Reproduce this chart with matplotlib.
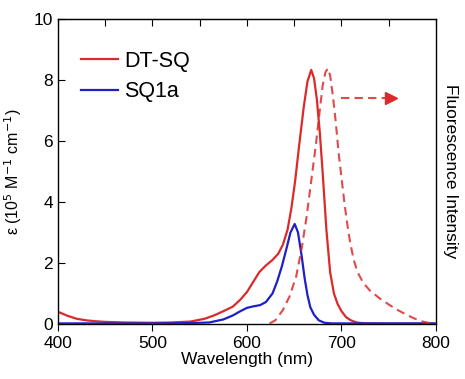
import matplotlib
matplotlib.use("Agg")
import matplotlib.pyplot as plt

plt.rcParams['font.family'] = ['Liberation Sans', 'DejaVu Sans']

# absorption of DT-SQ (1e5 M-1 cm-1)
dtsq_wl = [400, 410, 420, 430, 440, 450, 470, 500, 520, 540, 555, 565, 575, 585,
           593, 600, 607, 613, 620, 627, 633, 638, 643, 647, 651, 655, 660, 664, 668,
           671, 674, 677, 680, 684, 688, 692, 696, 700, 705, 710, 716, 725, 750, 800]
dtsq_eps = [0.40, 0.27, 0.17, 0.12, 0.09, 0.07, 0.05, 0.04, 0.05, 0.08, 0.17, 0.28,
            0.42, 0.57, 0.80, 1.05, 1.40, 1.70, 1.92, 2.10, 2.30, 2.60, 3.10, 3.80,
            4.70, 5.80, 7.10, 7.95, 8.33, 8.05, 7.35, 6.30, 5.00, 3.10, 1.70, 1.00,
            0.65, 0.42, 0.22, 0.12, 0.05, 0.02, 0.01, 0.01]

# absorption of SQ1a
sq_wl = [400, 500, 540, 560, 575, 585, 593, 600, 607, 614, 620, 627, 632, 637,
         642, 646, 650.5, 654, 658, 661, 664, 667, 671, 676, 682, 690, 800]
sq_eps = [0.02, 0.02, 0.03, 0.05, 0.15, 0.28, 0.42, 0.53, 0.58, 0.62, 0.72, 1.00,
          1.40, 1.90, 2.50, 3.00, 3.28, 3.00, 2.20, 1.50, 0.95, 0.55, 0.30, 0.12,
          0.04, 0.02, 0.02]

# fluorescence of DT-SQ (scaled to absorption peak)
fl_wl = [624, 630, 638, 645, 652, 658, 663, 668, 673, 677, 680, 683, 685.5, 688,
         691, 694, 697, 700, 703, 706, 709, 713, 717, 723, 730, 740, 751, 760,
         769, 778, 786, 795, 800]
fl_int = [0.02, 0.12, 0.46, 0.90, 1.55, 2.50, 3.50, 4.70, 5.90, 7.00, 7.80, 8.25,
          8.38, 8.15, 7.45, 6.60, 5.60, 4.80, 4.00, 3.30, 2.70, 2.10, 1.70, 1.35,
          1.10, 0.85, 0.62, 0.45, 0.30, 0.17, 0.08, 0.02, 0.01]

red = '#dc2a2a'
blue = '#1f1fc8'

fig = plt.figure(figsize=(4.65, 3.79), dpi=100)
ax = fig.add_axes([0.1247, 0.1451, 0.8129, 0.8048])

ax.plot(dtsq_wl, dtsq_eps, color=red, lw=1.6, label='DT-SQ')
ax.plot(sq_wl, sq_eps, color=blue, lw=1.6, label='SQ1a')
ax.plot(fl_wl, fl_int, color=red, lw=1.5, ls=(0, (4, 2.5)), alpha=0.85)

# arrow pointing to the right axis
ax.plot([700, 749], [7.4, 7.4], color=red, lw=1.5, ls=(0, (4, 2.5)), alpha=0.85)
ax.plot([752], [7.4], marker='>', color=red, ms=8, mec=red)

ax.set_xlim(400, 800)
ax.set_ylim(0, 10)
ax.set_xticks([400, 500, 600, 700, 800])
ax.set_yticks([0, 2, 4, 6, 8, 10])
ax.tick_params(axis='x', direction='out', length=5, labelsize=12.5, top=False)
ax.tick_params(axis='y', direction='in', length=5, labelsize=12.5, right=False)
ax.secondary_xaxis('top').tick_params(direction='in', length=5, labeltop=False)
for s in ax.spines.values():
    s.set_color('#444444')
    s.set_linewidth(1.0)

ax.set_xlabel('Wavelength (nm)', fontsize=12.5, labelpad=1)
ax.set_ylabel(r'ε (10$^5$ M$^{-1}$ cm$^{-1}$)', fontsize=11.5, labelpad=7)

ax2 = ax.twinx()
ax2.set_yticks([])
ax2.set_ylabel('Fluorescence Intensity', fontsize=12.5, rotation=270, labelpad=16)

ax.legend(loc='upper left', bbox_to_anchor=(0.01, 0.96), frameon=False,
          fontsize=15.5, handlelength=1.7, handletextpad=0.3, labelspacing=0.45)

fig.savefig('out.png', dpi=100)
